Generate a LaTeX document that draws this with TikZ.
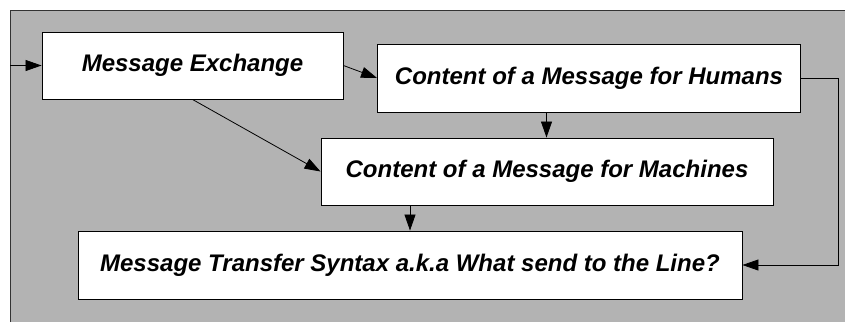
\documentclass[tikz,border=0pt]{standalone}
\usepackage{fontspec}
\setmainfont{Liberation Sans}
\usetikzlibrary{arrows.meta}
\definecolor{panel}{HTML}{B3B3B3}
\definecolor{edge}{HTML}{333333}
\tikzset{
  box/.style={draw=black, line width=0.9pt, fill=white, inner sep=0pt,
    font=\fontsize{24}{28}\selectfont\bfseries\itshape},
  link/.style={draw=black, line width=0.8pt,
    -{Triangle[length=16pt,width=11pt]}},
}
\begin{document}
\begin{tikzpicture}[x=1pt,y=-1pt]
  \useasboundingbox (0,0) rectangle (845,322);
  % grey panel, only its top and left edges lie inside the page
  \fill[panel] (10,10) rectangle (845,322);
  \draw[edge, line width=1pt] (10,322) -- (10,10) -- (845,10);
  % boxes
  \node[box, minimum width=301pt, minimum height=67pt] (ex) at (192.5,65.5) {Message Exchange};
  \node[box, minimum width=423pt, minimum height=68pt] (hu) at (589,78) {Content of a Message for Humans};
  \node[box, minimum width=452pt, minimum height=67pt] (ma) at (547,171.5) {Content of a Message for Machines};
  \node[box, minimum width=664pt, minimum height=68pt] (tr) at (410,265) {Message Transfer Syntax a.k.a What send to the Line?};
  % connectors
  \coordinate (in) at (10,65.5);
  \coordinate (rt) at (838,78);
  \draw[link] (in) -- (ex.west);
  \draw[link] (ex.east) -- (hu.west);
  \draw[link] (ex.south) -- (ma.west);
  \draw[link] (hu.south -| 546.5,0) -- (ma.north -| 546.5,0);
  \draw[link] (ma.south -| 410,0) -- (tr.north -| 410,0);
  \draw[link] (hu.east) -- (rt) |- (tr.east);
\end{tikzpicture}
\end{document}
